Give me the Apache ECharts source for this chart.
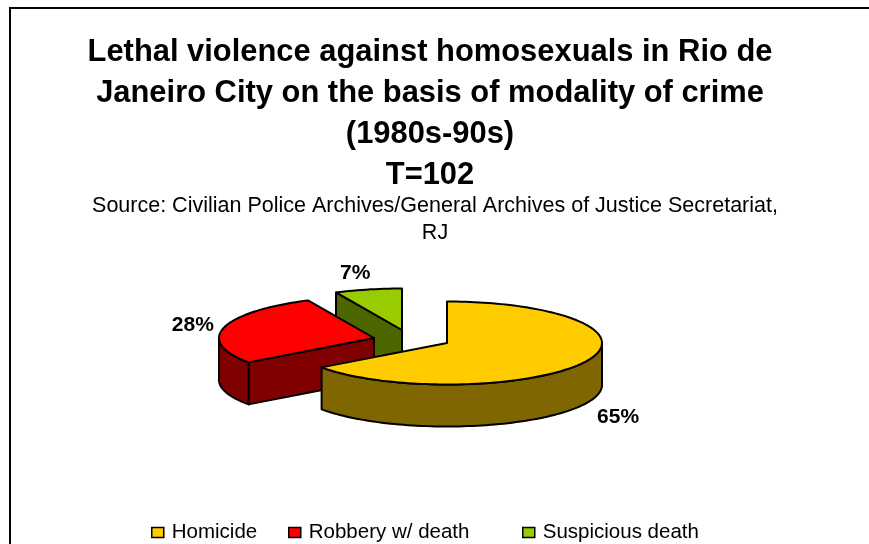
<!DOCTYPE html>
<html>
<head>
<meta charset="utf-8">
<style>html,body{margin:0;padding:0;background:#fff}#c{width:869px;height:544px}</style>
<script src="https://cdn.jsdelivr.net/npm/echarts@6/dist/echarts.min.js"></script>
</head>
<body>
<div id="c"></div>
<script>
const categories = ['Homicide', 'Robbery w/ death', 'Suspicious death'];
const seriesValues = [65, 28, 7];
const titleLines = ['Lethal violence against homosexuals in Rio de', 'Janeiro City on the basis of modality of crime', '(1980s-90s)', 'T=102'];
const sourceLines = ['Source: Civilian Police Archives/General Archives of Justice Secretariat,', 'RJ'];

// styling / layout
const topColors = ['#FFCC00', '#FF0000', '#99CC00'];
const sideColors = ['#806600', '#800000', '#4D6600'];
const FONT = '"Liberation Sans", Arial, sans-serif';
const CX = 447, CY = 343, RX = 155, RY = 41.5, DEPTH = 42;
const explode = [[0, 0], [-73, -5], [-45, -13]];
const labelOffset = [[33, 55], [-31, -2], [-13, -16]];
const legendLeft = [151, 288, 522];

const total = seriesValues.reduce((a, b) => a + b, 0);
const startOf = i => seriesValues.slice(0, i).reduce((a, b) => a + b, 0) / total * Math.PI * 2;
const arcPoint = (cx, cy, t) => [cx + RX * Math.sin(t), cy - RY * Math.cos(t)];

function arc(cx, cy, t0, t1) {
  const n = Math.max(2, Math.ceil(Math.abs(t1 - t0) / 0.03));
  const pts = [];
  for (let k = 0; k <= n; k++) pts.push(arcPoint(cx, cy, t0 + (t1 - t0) * k / n));
  return pts;
}
const poly = (points, fill, z2) => ({
  type: 'polygon', z2,
  shape: { points },
  style: { fill, stroke: '#000', lineWidth: 2, lineJoin: 'round' }
});

function renderSlice(i, value) {
  const cx = CX + explode[i][0], cy = CY + explode[i][1];
  const t0 = startOf(i), t1 = t0 + value / total * Math.PI * 2;
  const children = [];
  const down = p => [p[0], p[1] + DEPTH];
  const apex = [cx, cy];
  // the cut face that looks toward the viewer
  if (i > 0) {
    const p = arcPoint(cx, cy, t0);
    children.push(poly([apex, p, down(p), down(apex)], sideColors[i], 1));
  }
  // outer rim: the part in the front half of the ellipse
  const a = Math.max(t0, Math.PI / 2), b = Math.min(t1, Math.PI * 1.5);
  if (b > a) {
    const rim = arc(cx, cy, a, b);
    children.push(poly(rim.concat(rim.slice().reverse().map(down)), sideColors[i], 2));
  }
  // top face
  children.push(poly([apex].concat(arc(cx, cy, t0, t1)), topColors[i], 3));
  // percentage label near the outer edge
  const mid = arcPoint(cx, cy, (t0 + t1) / 2);
  children.push({
    type: 'text', z2: 4,
    style: {
      x: mid[0] + labelOffset[i][0], y: mid[1] + labelOffset[i][1],
      text: Math.round(value / total * 100) + '%',
      font: 'bold 21px ' + FONT, fill: '#000', align: 'center', verticalAlign: 'middle'
    }
  });
  return { type: 'group', children };
}

const chart = echarts.init(document.getElementById('c'), null, { renderer: 'canvas' });
chart.setOption({
  animation: false,
  backgroundColor: '#fff',
  title: [
    {
      text: titleLines.join('\n'), left: 425, top: 27, textAlign: 'center',
      textStyle: { fontFamily: FONT, fontWeight: 'bold', fontSize: 30.9, lineHeight: 41, color: '#000' }
    },
    {
      text: sourceLines.join('\n'), left: 430, top: 188, textAlign: 'center',
      textStyle: { fontFamily: FONT, fontWeight: 'normal', fontSize: 21.5, lineHeight: 27, color: '#000' }
    }
  ],
  legend: categories.map((name, i) => ({
    data: [name], left: legendLeft[i], top: 522, icon: 'rect', itemWidth: 12, itemHeight: 10, itemGap: 0,
    padding: 0,
    selectedMode: false,
    itemStyle: { borderColor: '#000', borderWidth: 1.5 },
    textStyle: { fontFamily: FONT, fontSize: 20.5, color: '#000', padding: [0, 0, 0, 3] }
  })),
  graphic: [{
    type: 'rect', silent: true,
    shape: { x: 10, y: 8, width: 900, height: 600 },
    style: { fill: 'none', stroke: '#000', lineWidth: 2 }
  }],
  series: categories.map((name, i) => ({
    type: 'custom', name, coordinateSystem: 'none',
    data: [[seriesValues[i]]],
    itemStyle: { color: topColors[i] },
    renderItem: (params, api) => renderSlice(i, api.value(0))
  })).reverse()
});
</script>
</body>
</html>
